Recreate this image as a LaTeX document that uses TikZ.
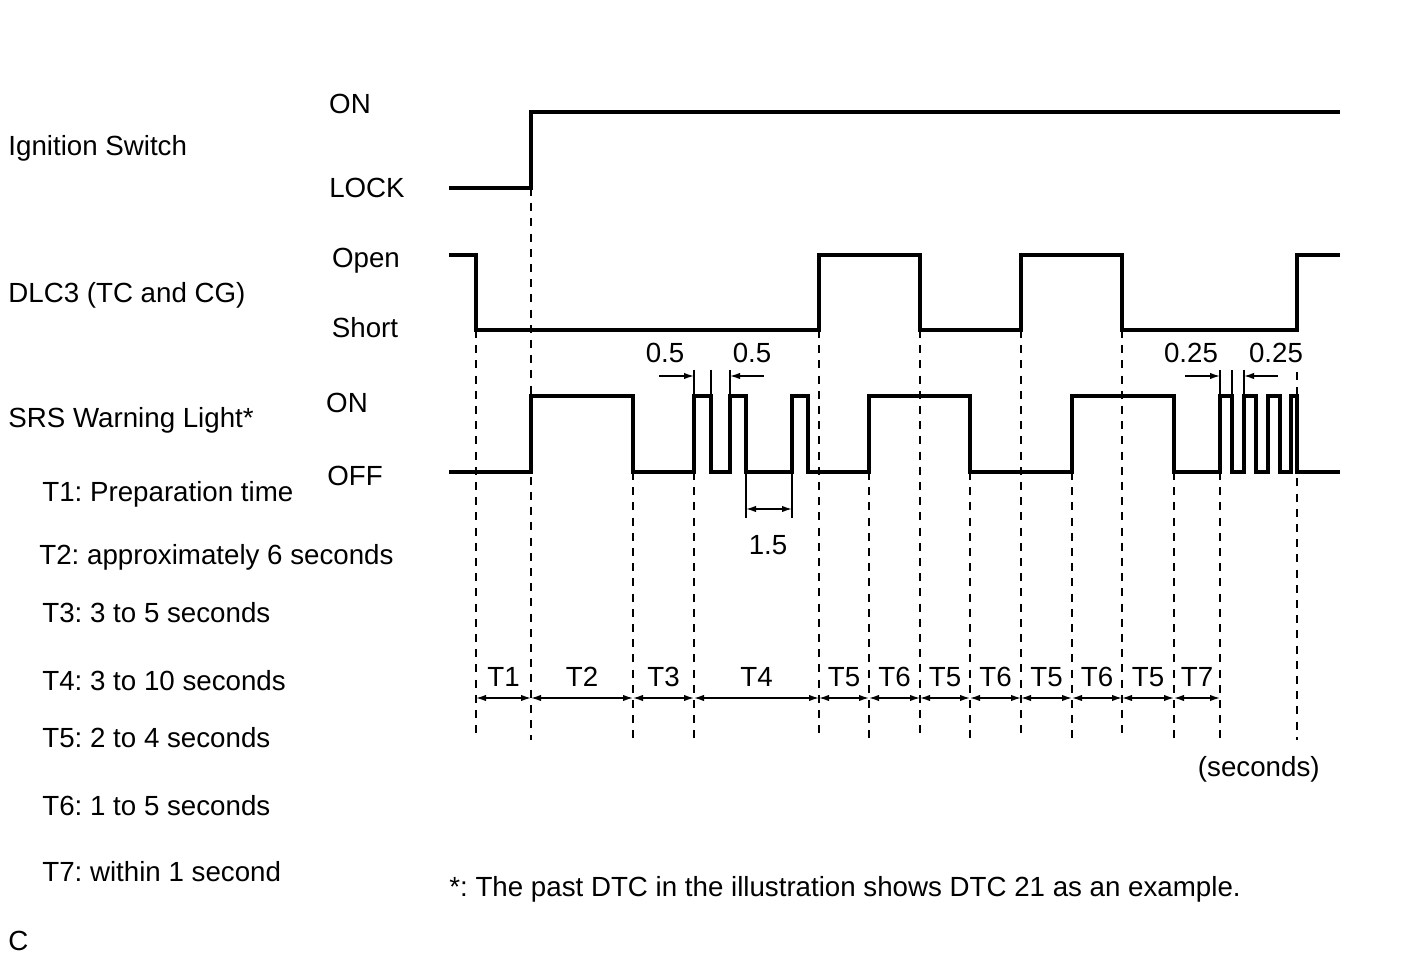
\documentclass[tikz,border=0pt]{standalone}
\usepackage{fontspec}
\setmainfont{Liberation Sans}
\usetikzlibrary{arrows.meta}
\frenchspacing

\tikzset{
  wave/.style={line width=1.6pt},
  guide/.style={line width=1.1pt,dash pattern=on 4pt off 3.6pt},
  tickline/.style={line width=0.7pt},
  dimto/.style={line width=0.7pt,-{Latex[length=5pt,width=3.2pt]}},
  dimboth/.style={line width=0.7pt,{Latex[length=5pt,width=3.2pt]}-{Latex[length=5pt,width=3.2pt]}},
  lbl/.style={inner sep=0pt,font=\fontsize{13.85}{16}\selectfont},
}

\begin{document}
\begin{tikzpicture}[x=0.5pt,y=-0.5pt]
    \useasboundingbox (0,0) rectangle (1421,957);
    % signal names and levels
    \node[lbl,anchor=base west] (ign)      at (8,156)   {Ignition Switch};
    \node[lbl,anchor=base]      (ignon)    at (350,114) {ON};
    \node[lbl,anchor=base]      (ignlock)  at (367,198) {LOCK};
    \node[lbl,anchor=base west] (dlc)      at (8,303)   {DLC3 (TC and CG)};
    \node[lbl,anchor=base]      (dlcopen)  at (366,268) {Open};
    \node[lbl,anchor=base]      (dlcshort) at (365,338) {Short};
    \node[lbl,anchor=base west] (srs)      at (8,428)   {SRS Warning Light*};
    \node[lbl,anchor=base]      (srson)    at (347,413) {ON};
    \node[lbl,anchor=base]      (srsoff)   at (355,486) {OFF};
    % legend
    \node[lbl,anchor=base west] (leg1) at (42,502) {T1: Preparation time};
    \node[lbl,anchor=base west] (leg2) at (39,565) {T2: approximately 6 seconds};
    \node[lbl,anchor=base west] (leg3) at (42,623) {T3: 3 to 5 seconds};
    \node[lbl,anchor=base west] (leg4) at (42,690) {T4: 3 to 10 seconds};
    \node[lbl,anchor=base west] (leg5) at (42,747) {T5: 2 to 4 seconds};
    \node[lbl,anchor=base west] (leg6) at (42,815) {T6: 1 to 5 seconds};
    \node[lbl,anchor=base west] (leg7) at (42,881) {T7: within 1 second};
    \node[lbl,anchor=base east] (unit) at (1320,776) {(seconds)};
    \node[lbl,anchor=base west] (note) at (449,896) {*: The past DTC in the illustration shows DTC 21 as an example.};
    \node[lbl,anchor=base west] (code) at (8,950) {C};
    % Ignition Switch
    \draw[wave] (449,188) -| (531,112) -- (1340,112);
    % DLC3
    \draw[wave] (449,255) -| (476,330) -| (819,255) -| (920,330) -| (1021,255)
                -| (1122,330) -| (1297,255) -- (1340,255);
    % SRS Warning Light
    \draw[wave] (449,472) -| (531,396) -| (633,472) -| (694,396) -| (711,472)
                -| (730,396) -| (746,472) -| (792,396) -| (808,472) -| (869,396)
                -| (970,472) -| (1072,396) -| (1174,472) -| (1220,396) -| (1232,472)
                -| (1244,396) -| (1256,472) -| (1268,396) -| (1280,472) -| (1291,396)
                -| (1297,472) -- (1340,472);
    % time marks
    \foreach \x/\top in {476/330,531/188,633/472,694/472,819/330,869/472,920/330,
                         970/472,1021/330,1072/472,1122/330,1174/472,1220/472,1297/372}
      \draw[guide] (\x,\top) -- (\x,740);
    \foreach \a/\b/\t in {476/531/T1,531/633/T2,633/694/T3,694/819/T4,819/869/T5,
                          869/920/T6,920/970/T5,970/1021/T6,1021/1072/T5,1072/1122/T6,
                          1122/1174/T5,1174/1220/T7}
      \draw[dimboth] (\a,698) -- node[lbl,above=5.5pt] {\t} (\b,698);
    % 0.5 s blinking
    \foreach \x in {694,711,730}
      \draw[tickline] (\x,370) -- (\x,396);
    \draw[dimto] (659,376) -- (694,376);
    \draw[dimto] (764,376) -- (730,376);
    \node[lbl,anchor=base] (half1) at (665,363) {0.5};
    \node[lbl,anchor=base] (half2) at (752,363) {0.5};
    % 1.5 s pause
    \foreach \x in {746,792}
      \draw[tickline] (\x,472) -- (\x,518);
    \draw[dimboth] (746,509) -- (792,509);
    \node[lbl,anchor=base] (pause) at (768,554) {1.5};
    % 0.25 s blinking
    \foreach \x in {1220,1232,1244}
      \draw[tickline] (\x,370) -- (\x,396);
    \draw[dimto] (1185,376) -- (1220,376);
    \draw[dimto] (1278,376) -- (1244,376);
    \node[lbl,anchor=base] (quart1) at (1191,363) {0.25};
    \node[lbl,anchor=base] (quart2) at (1276,363) {0.25};
\end{tikzpicture}
\end{document}
